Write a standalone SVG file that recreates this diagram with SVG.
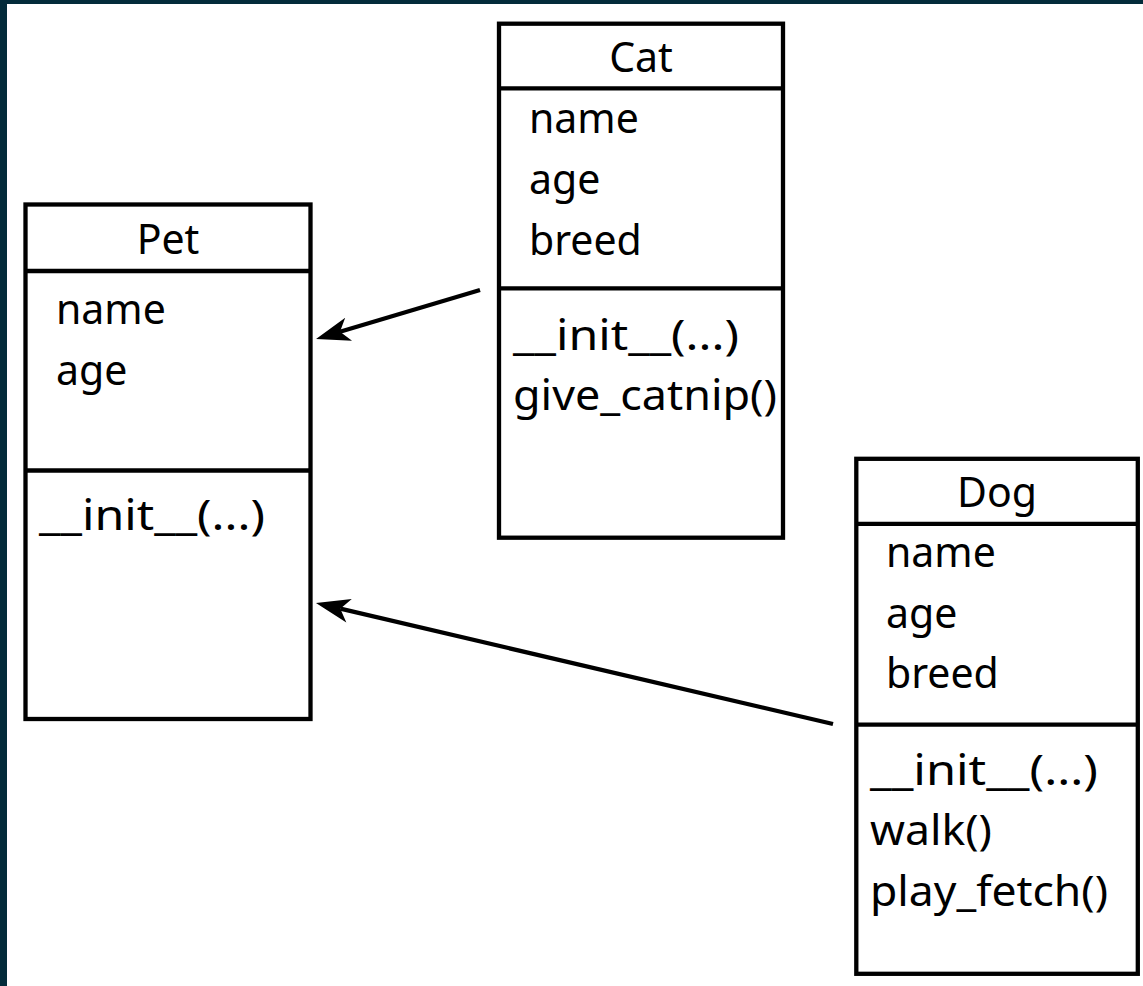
<svg xmlns="http://www.w3.org/2000/svg" width="1143" height="986" viewBox="0 0 1143 986">
<style>
.box{fill:#ffffff;stroke:#000000;stroke-width:4.3}
.sep{stroke:#000000;stroke-width:4.3}
text{font-family:"Noto Sans","Open Sans","Liberation Sans",sans-serif;font-size:41px;fill:#000000}
.title{text-anchor:middle}
.conn{stroke:#000000;stroke-width:4.3;fill:none;marker-end:url(#arrow)}
</style>
<defs>
<marker id="arrow" markerUnits="userSpaceOnUse" viewBox="-10 -13 36 26" refX="0" refY="0" markerWidth="36" markerHeight="26" orient="auto">
<path d="M-9,-12 L25,0 L-9,12 L0,0 Z" fill="#000000"/>
</marker>
</defs>
<rect x="0" y="0" width="1143" height="986" fill="#032b3a"/>
<rect x="7" y="4" width="1136" height="982" fill="#ffffff"/>
<g id="pet">
<rect class="box" x="25.5" y="204.5" width="285" height="514.5"/>
<line class="sep" x1="25.5" y1="271" x2="310.5" y2="271"/>
<line class="sep" x1="25.5" y1="470.5" x2="310.5" y2="470.5"/>
<text class="title" x="168" y="254">Pet</text>
<text x="56" y="324">name</text>
<text x="56" y="385">age</text>
<text x="39" y="530" textLength="226" lengthAdjust="spacingAndGlyphs">__init__(...)</text>
</g>
<g id="cat">
<rect class="box" x="499" y="23.7" width="284" height="514"/>
<line class="sep" x1="499" y1="88.3" x2="783" y2="88.3"/>
<line class="sep" x1="499" y1="288.3" x2="783" y2="288.3"/>
<text class="title" x="641" y="71.5">Cat</text>
<text x="529" y="133">name</text>
<text x="529" y="194">age</text>
<text x="529" y="254.5">breed</text>
<text x="513" y="350" textLength="226" lengthAdjust="spacingAndGlyphs">__init__(...)</text>
<text x="513" y="410" textLength="264" lengthAdjust="spacingAndGlyphs">give_catnip()</text>
</g>
<g id="dog">
<rect class="box" x="856.3" y="458.8" width="281.5" height="515"/>
<line class="sep" x1="856.3" y1="523.8" x2="1137.8" y2="523.8"/>
<line class="sep" x1="856.3" y1="724.7" x2="1137.8" y2="724.7"/>
<text class="title" x="997" y="507">Dog</text>
<text x="886" y="567">name</text>
<text x="886" y="628">age</text>
<text x="886" y="688">breed</text>
<text x="870" y="785" textLength="228" lengthAdjust="spacingAndGlyphs">__init__(...)</text>
<text x="870" y="845" textLength="122" lengthAdjust="spacingAndGlyphs">walk()</text>
<text x="870" y="906" textLength="238" lengthAdjust="spacingAndGlyphs">play_fetch()</text>
</g>
<g id="connectors">
<line class="conn" x1="480" y1="290" x2="340" y2="331.8"/>
<line class="conn" x1="833" y1="724" x2="340.3" y2="608.7"/>
</g>
</svg>
